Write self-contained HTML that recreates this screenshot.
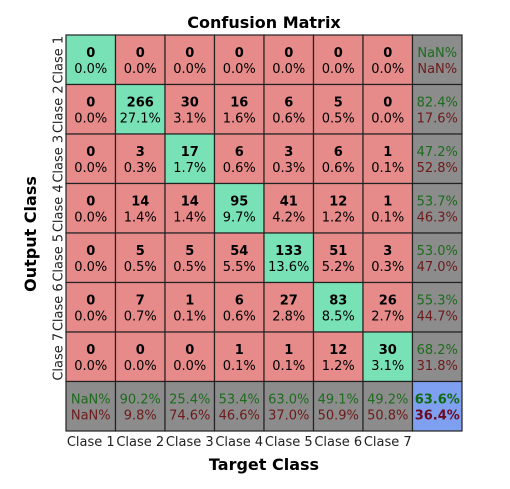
<!DOCTYPE html>
<html><head><meta charset="utf-8"><style>
body{margin:0;background:#fff;width:510px;height:484px;overflow:hidden}
svg text{font-family:"DejaVu Sans","Liberation Sans",sans-serif}
</style></head><body>
<svg id="c" width="510" height="484"></svg>
<script>
const classes=["Clase 1","Clase 2","Clase 3","Clase 4","Clase 5","Clase 6","Clase 7"];
const counts=[
[0,0,0,0,0,0,0],
[0,266,30,16,6,5,0],
[0,3,17,6,3,6,1],
[0,14,14,95,41,12,1],
[0,5,5,54,133,51,3],
[0,7,1,6,27,83,26],
[0,0,0,1,1,12,30]];
const rowPct=[["NaN%","NaN%"],["82.4%","17.6%"],["47.2%","52.8%"],["53.7%","46.3%"],["53.0%","47.0%"],["55.3%","44.7%"],["68.2%","31.8%"]];
const colPct=[["NaN%","NaN%"],["90.2%","9.8%"],["25.4%","74.6%"],["53.4%","46.6%"],["63.0%","37.0%"],["49.1%","50.9%"],["49.2%","50.8%"]];
const totalPct=["63.6%","36.4%"];
const total=981;
const NS="http://www.w3.org/2000/svg",svg=document.getElementById('c');
const X0=66,Y0=35,S=49.5;
function el(t,a,txt){const e=document.createElementNS(NS,t);for(const k in a)e.setAttribute(k,a[k]);if(txt!==undefined)e.textContent=txt;svg.appendChild(e);return e;}
function cell(r,c,fill,t1,t2,col1,col2,bold2){
 const g=el('rect',{x:X0+c*S,y:Y0+r*S,width:S,height:S,fill:fill,stroke:"#222","stroke-width":1.2});
 
 
 const cx=X0+c*S+S/2,cy=Y0+r*S+S/2;
 const a=el('text',{x:cx,y:cy-3,"text-anchor":"middle","font-size":13,"font-weight":bold2===undefined?"bold":(bold2?"bold":"normal"),fill:col1},t1);
 
 
 const b=el('text',{x:cx,y:cy+13,"text-anchor":"middle","font-size":13,"font-weight":bold2?"bold":"normal",fill:col2},t2);
 
 
}
const n=classes.length;
for(let r=0;r<n;r++)for(let c=0;c<n;c++){
 cell(r,c,r===c?"#78e2b6":"#e68a8a",String(counts[r][c]),(counts[r][c]/total*100).toFixed(1)+"%","#000","#000");
}
for(let r=0;r<n;r++)cell(r,n,"#8c8c8c",rowPct[r][0],rowPct[r][1],"#1d6b1d","#6e1a1a",false);
for(let c=0;c<n;c++)cell(n,c,"#8c8c8c",colPct[c][0],colPct[c][1],"#1d6b1d","#6e1a1a",false);
cell(n,n,"#7f9ff0",totalPct[0],totalPct[1],"#106a10","#6a0a20",true);
for(let i=0;i<n;i++){
 const t=el('text',{x:X0+i*S+S/2,y:446,"text-anchor":"middle","font-size":13,fill:"#222"},classes[i]);
 
 
 const cy=Y0+i*S+S/2;
 const u=el('text',{x:58,y:cy,"text-anchor":"middle","font-size":13,fill:"#222",transform:`rotate(-90 58 ${cy})`,dy:"0.35em"},classes[i]);
 
 
}
const t1=el('text',{x:264,y:28,"text-anchor":"middle","font-size":16,"font-weight":"bold"},"Confusion Matrix");

const t2=el('text',{x:264,y:470,"text-anchor":"middle","font-size":16,"font-weight":"bold"},"Target Class");

const t3=el('text',{x:36,y:234,"text-anchor":"middle","font-size":16,"font-weight":"bold",transform:"rotate(-90 36 234)"},"Output Class");

</script>
</body></html>
